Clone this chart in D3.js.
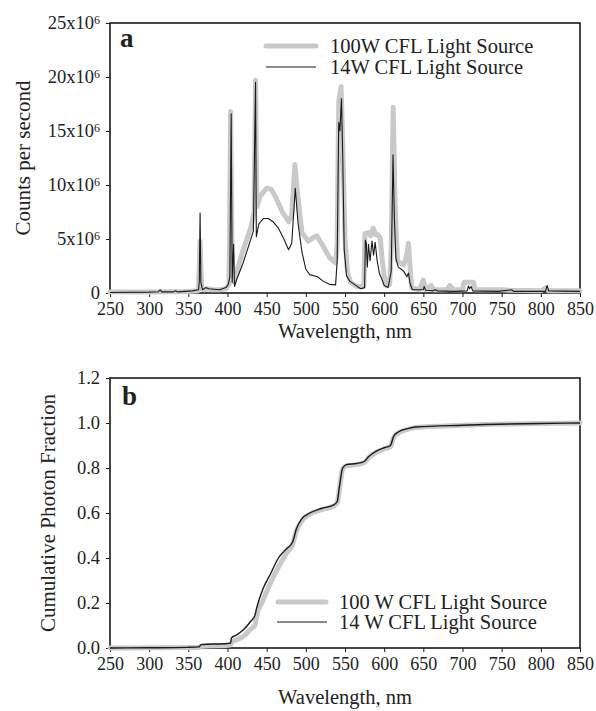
<!DOCTYPE html>
<html>
<head>
<meta charset="utf-8">
<script src="https://cdn.jsdelivr.net/npm/d3@7"></script>
<style>
  body { margin: 0; background: #fff; }
  text { font-family: "Liberation Serif", "Times New Roman", serif; fill: #222; }
</style>
</head>
<body>
<div id="chart"></div>
<script>
// ---- panel a: spectra (counts per second, millions) ----
var wl100 = [250, 300, 350, 362, 363, 365, 367, 370, 375, 380, 390, 398, 402, 404, 406, 408, 411, 420, 430, 434, 435.8, 437.5,
  442, 450, 456, 462, 470, 478, 482, 486, 489, 495, 503, 509, 514, 520, 530, 538, 540, 542, 545, 547, 550, 553, 557, 565,
  574, 575.5, 580, 583, 586, 589, 592, 595, 597, 600, 603, 607, 609, 611.5, 614, 617, 620, 625, 629, 631, 633, 635, 645,
  650, 653, 660, 663, 680, 684, 688, 700, 702, 714, 716, 750, 760, 800, 806, 810, 850];
var cps100 = [0.1, 0.1, 0.15, 0.2, 0.5, 4.8, 0.4, 0.3, 0.4, 0.3, 0.3, 0.4, 0.8, 16.8, 2.0, 1.0, 1.8, 4.0, 6.1, 7.5, 19.7, 8.0,
  9.0, 9.7, 9.6, 8.8, 7.5, 6.6, 7.2, 11.9, 9.5, 5.6, 4.8, 5.1, 5.3, 4.6, 3.3, 2.8, 4.5, 17.7, 19.1, 14, 5, 2, 1.0, 0.6,
  0.6, 5.5, 5.6, 5.3, 6.0, 5.4, 5.4, 5.1, 3.4, 1.6, 0.7, 0.8, 4, 17.2, 8, 3.0, 2.8, 2.6, 3.6, 4.6, 2.5, 0.5, 0.3,
  1.2, 0.3, 0.7, 0.3, 0.3, 0.7, 0.3, 0.3, 1.0, 1.0, 0.3, 0.3, 0.25, 0.2, 0.45, 0.2, 0.2];

var wl14 = [250, 300, 312, 314, 316, 330, 334, 336, 355, 363, 364, 365, 366, 368, 372, 376, 390, 398, 401, 403, 404.7, 406,
  407.8, 409, 412, 420, 428, 433, 435.8, 436.8, 440, 446, 452, 458, 465, 472, 478, 482, 486.5, 490, 495, 500, 505, 515,
  522, 530, 538, 540, 542, 543.5, 545.5, 547, 549, 552, 556, 562, 570, 575, 576, 577.2, 578.5, 580, 582, 584.5, 586.5,
  588.5, 591, 594, 597, 600, 605, 609, 611.3, 613, 615, 618, 622, 625, 629, 631, 633, 636, 650, 651, 653, 662, 665, 668,
  690, 706, 707.5, 709, 711, 713, 745, 763, 765, 806, 808, 810, 850];
var cps14 = [0.05, 0.08, 0.12, 0.3, 0.1, 0.1, 0.2, 0.1, 0.2, 0.3, 1.0, 7.4, 1.0, 0.3, 0.5, 0.4, 0.3, 0.5, 0.8, 1.5, 16.6, 1.0,
  4.5, 0.6, 1.3, 2.8, 4.6, 5.7, 19.5, 5.2, 6.4, 6.9, 6.9, 6.6, 6.0, 5.0, 4.0, 4.6, 9.7, 6.5, 3.8, 2.2, 1.7, 1.5,
  1.1, 0.8, 0.75, 3.0, 15.8, 15.0, 18.0, 13, 4, 1.6, 1.1, 0.8, 0.4, 0.5, 4.9, 4.6, 2.4, 4.5, 3.0, 4.8, 3.5,
  4.7, 3.0, 1.8, 1.3, 0.7, 0.5, 2.0, 12.8, 7, 3.2, 2.4, 2.2, 2.0, 1.5, 1.85, 0.9, 0.3, 0.3, 0.6, 0.25, 0.2, 0.3, 0.2,
  0.15, 0.2, 0.65, 0.4, 0.6, 0.2, 0.15, 0.3, 0.15, 0.15, 0.7, 0.2, 0.15];

// ---- panel b: cumulative photon fraction ----
var cumWl = [250, 300, 350, 364, 366, 400, 404, 405, 410, 420, 430, 435, 437, 445, 455, 465, 475, 483, 488, 495, 505, 520,
  535, 540, 543, 547, 552, 565, 575, 580, 590, 600, 608, 612, 618, 630, 640, 700, 800, 850];
var cum14 = [0, 0.001, 0.003, 0.005, 0.015, 0.02, 0.022, 0.045, 0.055, 0.08, 0.12, 0.145, 0.175, 0.26, 0.33, 0.40, 0.44,
  0.47, 0.53, 0.575, 0.6, 0.62, 0.635, 0.65, 0.72, 0.8, 0.815, 0.82, 0.83, 0.85, 0.875, 0.89, 0.9, 0.94, 0.96, 0.975,
  0.982, 0.99, 0.998, 1.0];
var cum100 = [0, 0.001, 0.002, 0.003, 0.008, 0.012, 0.014, 0.025, 0.035, 0.05, 0.085, 0.10, 0.14, 0.21, 0.29, 0.36, 0.42,
  0.46, 0.52, 0.565, 0.595, 0.615, 0.63, 0.645, 0.71, 0.795, 0.81, 0.815, 0.825, 0.845, 0.87, 0.885, 0.895, 0.935, 0.955,
  0.972, 0.98, 0.99, 0.998, 1.0];

var xTicks = [250, 300, 350, 400, 450, 500, 550, 600, 650, 700, 750, 800, 850];
var yTicksA = [0, 5, 10, 15, 20, 25];
var yTicksB = [0, 0.2, 0.4, 0.6, 0.8, 1.0, 1.2];
var legendA = ["100W CFL Light Source", "14W CFL Light Source"];
var legendB = ["100 W CFL Light Source", "14 W CFL Light Source"];

var width = 596, height = 711;
var grey = "#c9c9c9", ink = "#1a1a1a";

var svg = d3.select("#chart").append("svg")
    .attr("width", width)
    .attr("height", height);

var x = d3.scaleLinear().domain([250, 850]).range([110, 580]);

function frame(y, top, bottom, yTicks, fmt) {
    var g = svg.append("g");
    // x axis
    g.append("g")
        .attr("transform", "translate(0," + bottom + ")")
        .call(d3.axisBottom(x).tickValues(xTicks).tickSize(4).tickSizeOuter(0).tickPadding(5))
        .call(s => s.select(".domain").remove())
        .call(s => s.selectAll("line").attr("stroke", ink).attr("stroke-width", 1))
        .call(s => s.selectAll("text").attr("font-size", 18).attr("font-family", "Liberation Serif").attr("fill", ink));
    // y axis
    var ya = g.append("g")
        .attr("transform", "translate(110,0)")
        .call(d3.axisLeft(y).tickValues(yTicks).tickSize(4).tickSizeOuter(0).tickPadding(6).tickFormat(fmt))
        .call(s => s.select(".domain").remove())
        .call(s => s.selectAll("line").attr("stroke", ink).attr("stroke-width", 1))
        .call(s => s.selectAll("text").attr("font-size", 18.5).attr("font-family", "Liberation Serif").attr("fill", ink));
    // box
    g.append("rect")
        .attr("x", 110).attr("y", top)
        .attr("width", 470).attr("height", bottom - top)
        .attr("fill", "none").attr("stroke", ink).attr("stroke-width", 1.6);
    return ya;
}

// ---------- panel a ----------
var yA = d3.scaleLinear().domain([0, 25]).range([293, 23]);
var yaA = frame(yA, 23, 293, yTicksA, function (d) { return d === 0 ? "0" : ""; });
// custom "Nx10^6" labels
yaA.selectAll(".tick text")
    .each(function (d) {
        if (d === 0) return;
        var t = d3.select(this);
        t.append("tspan").text(d + "x10");
        t.append("tspan").attr("dy", "-0.45em").attr("font-size", 12).text("6");
    });

var lineA = d3.line().x(d => x(d[0])).y(d => yA(d[1]));
svg.append("path")
    .datum(d3.zip(wl100, cps100))
    .attr("d", lineA)
    .attr("fill", "none").attr("stroke", grey).attr("stroke-width", 5)
    .attr("stroke-linejoin", "round").attr("stroke-linecap", "round");
svg.append("path")
    .datum(d3.zip(wl14, cps14))
    .attr("d", lineA)
    .attr("fill", "none").attr("stroke", ink).attr("stroke-width", 1.1)
    .attr("stroke-linejoin", "round");

svg.append("text").attr("x", 120).attr("y", 47)
    .attr("font-size", 27).attr("font-weight", "bold").text("a");

svg.append("line").attr("x1", 266).attr("x2", 316).attr("y1", 46).attr("y2", 46)
    .attr("stroke", grey).attr("stroke-width", 5).attr("stroke-linecap", "round");
svg.append("line").attr("x1", 266).attr("x2", 316).attr("y1", 67).attr("y2", 67)
    .attr("stroke", ink).attr("stroke-width", 1.1);
svg.append("text").attr("x", 330).attr("y", 53).attr("font-size", 20.5).text(legendA[0]);
svg.append("text").attr("x", 330).attr("y", 74).attr("font-size", 20.5).text(legendA[1]);

svg.append("text").attr("x", 345).attr("y", 338).attr("text-anchor", "middle")
    .attr("font-size", 20.5).text("Wavelength, nm");
svg.append("text").attr("transform", "translate(30,158) rotate(-90)").attr("text-anchor", "middle")
    .attr("font-size", 21).text("Counts per second");

// ---------- panel b ----------
var yB = d3.scaleLinear().domain([0, 1.2]).range([648, 378]);
frame(yB, 378, 648, yTicksB, d3.format(".1f"));

var lineB = d3.line().x(d => x(d[0])).y(d => yB(d[1])).curve(d3.curveMonotoneX);
svg.append("path")
    .datum(d3.zip(cumWl, cum100))
    .attr("d", lineB)
    .attr("fill", "none").attr("stroke", grey).attr("stroke-width", 5)
    .attr("stroke-linejoin", "round").attr("stroke-linecap", "round");
svg.append("path")
    .datum(d3.zip(cumWl, cum14))
    .attr("d", lineB)
    .attr("fill", "none").attr("stroke", ink).attr("stroke-width", 1.4);

svg.append("text").attr("x", 122).attr("y", 405)
    .attr("font-size", 27).attr("font-weight", "bold").text("b");

svg.append("line").attr("x1", 278).attr("x2", 326).attr("y1", 602).attr("y2", 602)
    .attr("stroke", grey).attr("stroke-width", 5).attr("stroke-linecap", "round");
svg.append("line").attr("x1", 277).attr("x2", 327).attr("y1", 622).attr("y2", 622)
    .attr("stroke", ink).attr("stroke-width", 1.1);
svg.append("text").attr("x", 339).attr("y", 609).attr("font-size", 20.5).text(legendB[0]);
svg.append("text").attr("x", 339).attr("y", 629).attr("font-size", 20.5).text(legendB[1]);

svg.append("text").attr("x", 345).attr("y", 704).attr("text-anchor", "middle")
    .attr("font-size", 20.5).text("Wavelength, nm");
svg.append("text").attr("transform", "translate(55,513) rotate(-90)").attr("text-anchor", "middle")
    .attr("font-size", 21).text("Cumulative Photon Fraction");
</script>
</body>
</html>
